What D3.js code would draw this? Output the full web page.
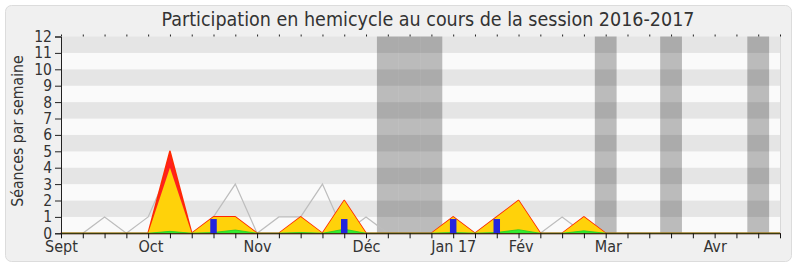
<!DOCTYPE html>
<html>
<head>
<meta charset="utf-8">
<script src="https://cdn.jsdelivr.net/npm/d3@7"></script>
<style>
  html, body { margin: 0; padding: 0; background: #ffffff; }
  svg { display: block; }
  text { font-family: "DejaVu Sans Condensed", "DejaVu Sans", sans-serif; font-stretch: condensed; fill: #333; }
</style>
</head>
<body>
<svg id="chart" width="800" height="267"></svg>
<script>
// Weekly hemicycle activity, one value per week of the 2016-2017 session (34 weeks).
const weeks = d3.range(34);
// median of all deputies (grey line)
const median = [0,0,1,0,1,4,0,1,3,0,1,1,3,0,1,0,0,0,1,0,1,1,0,1,0,0,0,0,0,0,0,0,0,0];
// sittings attended (red area) and recorded presence (yellow area)
const sittings = [0,0,0,0,0,5,0,1,1,0,0,1,0,2,0,0,0,0,1,0,1,2,0,0,1,0,0,0,0,0,0,0,0,0];
const presence = [0,0,0,0,0,4,0,1,1,0,0,1,0,2,0,0,0,0,1,0,1,2,0,0,1,0,0,0,0,0,0,0,0,0];
// interventions (green area)
const interventions = [0,0,0,0,0,0.12,0,0.05,0.2,0,0,0.05,0,0.25,0,0,0,0,0.05,0,0.05,0.22,0,0,0.15,0,0,0,0,0,0,0,0,0];
// oral questions (blue bars)
const questionWeeks = [7,13,18,20];
const questionValues = [0.87,0.87,0.87,0.87];
// parliamentary recess weeks (dark bands)
const recessWeeks = [15,16,17,25,28,32];
// month labels and the week they sit on
const monthLabels = ["Sept","Oct","Nov","Déc","Jan 17","Fév","Mar","Avr"];
const monthWeeks = [0,4.1,9,14,18,21.1,25.1,30];
const yTicks = d3.range(0,13);

const svg = d3.select("#chart");
const plotLeft = 61, plotRight = 780, plotTop = 36.5, plotBottom = 233.3;

const x = d3.scaleLinear().domain([0,33]).range([plotLeft,plotRight]);
const y = d3.scaleLinear().domain([0,12]).range([plotBottom,plotTop]);
const halfWeek = (x(1) - x(0)) / 2;

// outer panel
svg.append("rect")
  .attr("x",5.5).attr("y",5.5).attr("width",786).attr("height",256)
  .attr("rx",6).attr("ry",6)
  .attr("fill","#f0f0f0").attr("stroke","#dcdcdc");

// title
svg.append("text")
  .attr("x",428).attr("y",26)
  .attr("text-anchor","middle")
  .style("font-size","19.5px")
  .text("Participation en hemicycle au cours de la session 2016-2017");

// alternating horizontal stripes, one per unit
const stripes = d3.range(0,12);
svg.append("g").selectAll("rect").data(stripes).join("rect")
  .attr("x",plotLeft).attr("width",plotRight-plotLeft)
  .attr("y",d => y(d+1)).attr("height",d => y(d)-y(d+1))
  .attr("fill",d => d % 2 === 1 ? "#e5e5e5" : "#fafafa");

// recess bands
svg.append("g").selectAll("rect").data(recessWeeks).join("rect")
  .attr("x",d => x(d) - halfWeek).attr("width",2*halfWeek)
  .attr("y",plotTop).attr("height",plotBottom-plotTop)
  .attr("fill","rgba(0,0,0,0.25)");

// median line
svg.append("path")
  .datum(weeks)
  .attr("fill","none").attr("stroke","#bdbdbd").attr("stroke-width",1.2)
  .attr("d", d3.line().x(i => x(i)).y(i => y(median[i])));

// sittings area (red) and presence area (yellow)
const area = vals => d3.area().x(i => x(i)).y0(y(0)).y1(i => y(vals[i]));
svg.append("path").datum(weeks)
  .attr("fill","#ff2020").attr("stroke","#ff2a00").attr("stroke-width",1.6)
  .attr("stroke-linejoin","round")
  .attr("d", area(sittings));
svg.append("path").datum(weeks)
  .attr("fill","#ffd20a")
  .attr("d", area(presence));

// interventions area (green)
svg.append("path").datum(weeks)
  .attr("fill","#33ee33").attr("stroke","#22cc22").attr("stroke-width",0.8)
  .attr("d", area(interventions));

// oral questions bars
const barW = 6.5;
svg.append("g").selectAll("rect").data(questionWeeks).join("rect")
  .attr("x",d => x(d) - barW/2).attr("width",barW)
  .attr("y",(d,k) => y(questionValues[k]))
  .attr("height",(d,k) => y(0) - y(questionValues[k]))
  .attr("fill","#2424dd");

// right edge of the plot
svg.append("line")
  .attr("x1",plotRight+0.5).attr("x2",plotRight+0.5).attr("y1",plotTop).attr("y2",plotBottom)
  .attr("stroke","#d8d8d8");

// y axis
const yAxis = svg.append("g").attr("transform",`translate(${plotLeft},0)`)
  .call(d3.axisLeft(y).tickValues(yTicks).tickFormat(d3.format("d")).tickSize(6).tickPadding(3));
yAxis.selectAll("text").style("font-size","15.5px").attr("fill","#333");
yAxis.selectAll("line,path").attr("stroke","#222");

// week ticks along the bottom and top
const xWeekAxis = svg.append("g").attr("transform",`translate(0,${plotBottom})`)
  .call(d3.axisBottom(x).tickValues(weeks).tickFormat("").tickSize(5).tickSizeOuter(0));
xWeekAxis.selectAll("line").attr("stroke","#111");
xWeekAxis.select("path").attr("stroke","#3a0808");

const xTopAxis = svg.append("g").attr("transform",`translate(0,${plotTop})`)
  .call(d3.axisTop(x).tickValues(weeks).tickFormat("").tickSize(2).tickSizeOuter(0));
xTopAxis.selectAll("line").attr("stroke","#222");
xTopAxis.select("path").remove();

// month labels
const xMonthAxis = svg.append("g").attr("transform",`translate(0,${plotBottom})`)
  .call(d3.axisBottom(x).tickValues(monthWeeks)
    .tickFormat((d,k) => monthLabels[k]).tickSize(0).tickPadding(7));
xMonthAxis.select("path").remove();
xMonthAxis.selectAll("text").style("font-size","16px").attr("fill","#333");

// y axis title
svg.append("text")
  .attr("transform","translate(23,131) rotate(-90)")
  .attr("text-anchor","middle")
  .style("font-size","15.7px")
  .text("Séances par semaine");
</script>
</body>
</html>
